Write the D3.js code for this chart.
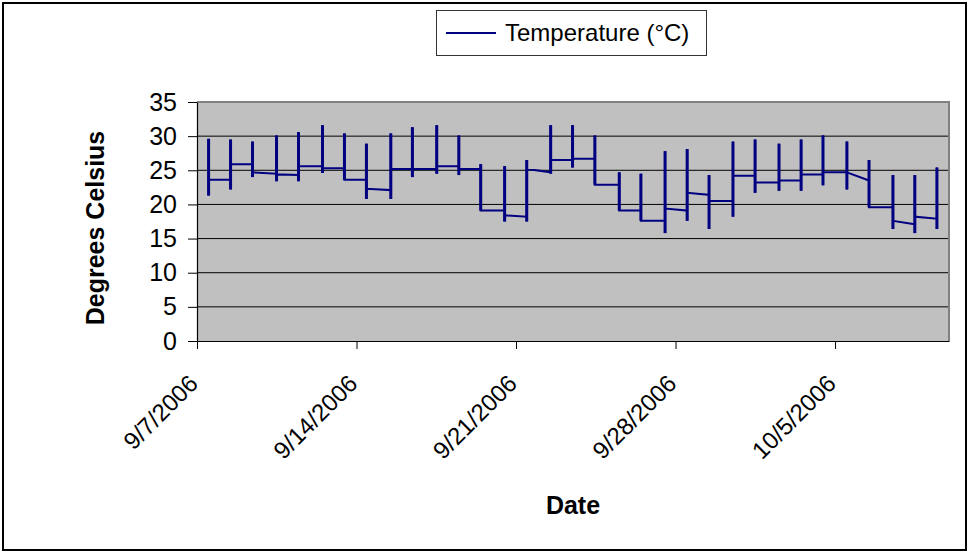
<!DOCTYPE html>
<html>
<head>
<meta charset="utf-8">
<script src="https://cdn.jsdelivr.net/npm/d3@7/dist/d3.min.js"></script>
<style>
  html, body { margin: 0; padding: 0; background: #fff; }
  svg { display: block; font-family: "Liberation Sans", Arial, sans-serif; }
</style>
</head>
<body>
<svg id="chart" width="969" height="552"></svg>
<script>
// Daily logger readings: time of the daily spike, level just before it,
// the spike's high and low, and the level it settles to afterwards.
const spikeTimes = [
  "2006-09-07T12:13", "2006-09-08T11:21", "2006-09-09T10:29", "2006-09-10T11:46",
  "2006-09-11T10:54", "2006-09-12T12:09", "2006-09-13T11:17", "2006-09-14T10:26",
  "2006-09-15T12:07", "2006-09-16T10:51", "2006-09-17T12:29", "2006-09-18T11:46",
  "2006-09-19T10:48", "2006-09-20T12:00", "2006-09-21T11:17", "2006-09-22T12:29",
  "2006-09-23T11:31", "2006-09-24T11:02", "2006-09-25T12:43", "2006-09-26T11:31",
  "2006-09-27T12:58", "2006-09-28T12:14", "2006-09-29T11:17", "2006-09-30T12:29",
  "2006-10-01T11:46", "2006-10-02T12:58", "2006-10-03T12:14", "2006-10-04T11:17",
  "2006-10-05T12:29", "2006-10-06T11:46", "2006-10-07T12:58", "2006-10-08T12:00",
  "2006-10-09T11:17"
];
const levelBefore = [
  null, 23.6, 25.9, 24.5, 24.3, 25.6, 25.3, 23.6, 22.1, 25.2, 25.2,
  25.6, 25.2, 19.1, 18.2, 24.7, 26.5, 26.7, 22.9, 19.1, 17.6, 19.1,
  21.4, 20.5, 24.2, 23.2, 23.5, 24.4, 24.7, 23.5, 19.6, 17.1, 17.9
];
const dailyHigh = [
  29.6, 29.5, 29.2, 30.1, 30.6, 31.6, 30.4, 28.9, 30.4, 31.3, 31.6,
  30.1, 25.9, 25.6, 26.5, 31.6, 31.6, 30.1, 24.7, 24.5, 27.8, 28.1,
  24.3, 29.2, 29.5, 28.9, 29.5, 30.1, 29.2, 26.5, 24.3, 24.3, 25.4
];
const dailyLow = [
  21.3, 22.2, 24.0, 23.4, 23.4, 24.6, 23.6, 20.8, 20.8, 24.0, 24.5,
  24.3, 19.1, 17.5, 17.5, 24.5, 25.4, 22.9, 19.1, 17.6, 15.8, 17.6,
  16.4, 18.2, 21.7, 22.0, 22.0, 22.8, 22.2, 19.6, 16.4, 15.8, 16.4
];
const levelAfter = [
  23.6, 25.9, 24.7, 24.4, 25.6, 25.3, 23.6, 22.3, 25.2, 25.2, 25.6,
  25.2, 19.1, 18.4, 25.2, 26.5, 26.7, 22.9, 19.1, 17.6, 19.4, 21.7,
  20.5, 24.2, 23.2, 23.5, 24.4, 24.7, 24.7, 19.6, 17.6, 18.2, 17.9
];

const xTickDates = ["2006-09-07", "2006-09-14", "2006-09-21", "2006-09-28", "2006-10-05"];
const yTicks = [0, 5, 10, 15, 20, 25, 30, 35];

const seriesName = "Temperature (°C)";
const xTitle = "Date";
const yTitle = "Degrees Celsius";

const parseTime = d3.timeParse("%Y-%m-%dT%H:%M");
const parseDay = d3.timeParse("%Y-%m-%d");
const fmtDay = d3.timeFormat("%-m/%-d/%Y");

// Flatten each day into the sequence of points the line passes through
const points = [];
const spikes = [];
spikeTimes.forEach((s, i) => {
  const t = parseTime(s);
  if (levelBefore[i] !== null) points.push({ t, v: levelBefore[i] });
  points.push({ t, v: dailyHigh[i] });
  points.push({ t, v: dailyLow[i] });
  points.push({ t, v: levelAfter[i] });
  spikes.push({ t, hi: dailyHigh[i], lo: dailyLow[i] });
});

const svg = d3.select("#chart");
const W = 969, H = 552;
const plot = { left: 197, right: 949, top: 102, bottom: 341 };

svg.append("rect").attr("width", W).attr("height", H).attr("fill", "#fff");
svg.append("rect")
  .attr("x", 3).attr("y", 3).attr("width", W - 6).attr("height", H - 5)
  .attr("fill", "none").attr("stroke", "#000").attr("stroke-width", 2);

const x = d3.scaleTime()
  .domain([parseDay("2006-09-07"), parseDay("2006-10-10")])
  .range([plot.left, plot.right]);
const y = d3.scaleLinear().domain([0, 35]).range([plot.bottom, plot.top]);

// Plot area
svg.append("rect")
  .attr("x", plot.left).attr("y", plot.top)
  .attr("width", plot.right - plot.left).attr("height", plot.bottom - plot.top)
  .attr("fill", "#c0c0c0");

// Horizontal gridlines
svg.append("g")
  .selectAll("line")
  .data(yTicks.filter(v => v > 0 && v < 35))
  .join("line")
  .attr("x1", plot.left).attr("x2", plot.right)
  .attr("y1", d => y(d)).attr("y2", d => y(d))
  .attr("stroke", "#000").attr("stroke-width", 1);

// Plot frame (top and right)
svg.append("path")
  .attr("d", `M${plot.left},${plot.top}H${plot.right}V${plot.bottom}`)
  .attr("fill", "none").attr("stroke", "#808080").attr("stroke-width", 2);

// Temperature line
const line = d3.line().x(d => x(d.t)).y(d => y(d.v));
svg.append("path")
  .datum(points)
  .attr("d", line)
  .attr("fill", "none")
  .attr("stroke", "#000080")
  .attr("stroke-width", 2)
  .attr("stroke-linejoin", "miter");

// The daily swings are traced back and forth, so they read heavier
svg.append("g")
  .selectAll("line")
  .data(spikes)
  .join("line")
  .attr("x1", d => x(d.t)).attr("x2", d => x(d.t))
  .attr("y1", d => y(d.hi)).attr("y2", d => y(d.lo))
  .attr("stroke", "#000080")
  .attr("stroke-width", 3);

// Y axis
const yAxis = svg.append("g")
  .attr("transform", `translate(${plot.left},0)`)
  .call(d3.axisLeft(y).tickValues(yTicks).tickSize(9).tickPadding(11).tickSizeOuter(0));
yAxis.select(".domain").attr("stroke", "#000").attr("stroke-width", 1.2);
yAxis.selectAll(".tick line").attr("stroke", "#000");
yAxis.selectAll(".tick text")
  .attr("font-family", "Liberation Sans, Arial, sans-serif")
  .attr("font-size", 25).attr("fill", "#000");

// X axis
const xAxis = svg.append("g")
  .attr("transform", `translate(0,${plot.bottom})`)
  .call(d3.axisBottom(x).tickValues(xTickDates.map(parseDay)).tickSize(8).tickFormat(fmtDay).tickSizeOuter(0));
xAxis.select(".domain").attr("stroke", "#000").attr("stroke-width", 1.2);
xAxis.selectAll(".tick line").attr("stroke", "#000");
xAxis.selectAll(".tick text")
  .attr("font-family", "Liberation Sans, Arial, sans-serif")
  .attr("font-size", 24).attr("fill", "#000")
  .attr("text-anchor", "end")
  .attr("dy", null)
  .attr("y", null)
  .attr("transform", "translate(2,44) rotate(-45)");

// Axis titles
svg.append("text")
  .attr("transform", `translate(104,228) rotate(-90)`)
  .attr("text-anchor", "middle")
  .attr("font-size", 25).attr("font-weight", "bold")
  .text(yTitle);

svg.append("text")
  .attr("x", 573).attr("y", 514)
  .attr("text-anchor", "middle")
  .attr("font-size", 25).attr("font-weight", "bold")
  .text(xTitle);

// Legend
const legend = svg.append("g");
legend.append("rect")
  .attr("x", 436.5).attr("y", 10.5).attr("width", 270).attr("height", 45)
  .attr("fill", "#fff").attr("stroke", "#333").attr("stroke-width", 1);
legend.append("line")
  .attr("x1", 446).attr("x2", 496).attr("y1", 33).attr("y2", 33)
  .attr("stroke", "#000080").attr("stroke-width", 2);
legend.append("text")
  .attr("x", 505).attr("y", 41)
  .attr("font-size", 24)
  .text(seriesName);
</script>
</body>
</html>
